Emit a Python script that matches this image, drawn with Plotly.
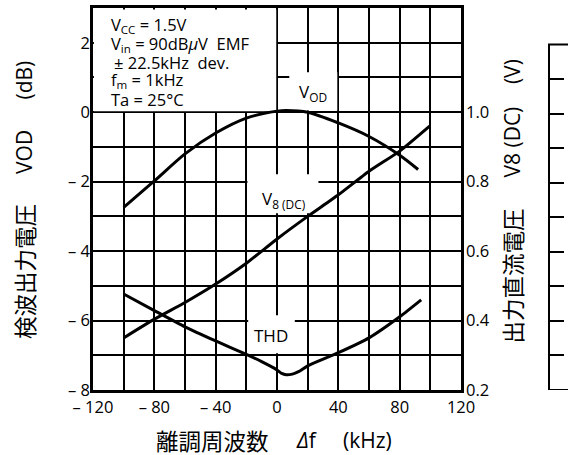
import plotly.graph_objects as go

# ---------------- data ----------------
freq_vod = [-100, -80, -60, -40, -20, 0, 6, 20, 40, 60, 80, 92]
vod_db = [-2.74, -1.98, -1.20, -0.60, -0.17, 0.03, 0.05, 0.0, -0.31, -0.70, -1.24, -1.65]

freq_v8 = [-100, -80, -60, -40, -20, 0, 20, 40, 60, 80, 99.5]
v8_dc = [0.350, 0.404, 0.452, 0.505, 0.565, 0.635, 0.700, 0.762, 0.830, 0.888, 0.960]

freq_thd = [-100, -80, -60, -40, -20, -10, 0, 3, 6, 10, 14, 20, 40, 60, 80, 94]
thd_pct = [2.78, 2.30, 1.83, 1.42, 1.03, 0.82, 0.58, 0.48, 0.44, 0.46, 0.53, 0.70, 1.08, 1.51, 2.12, 2.61]

x_tickvals = [-120, -80, -40, 0, 40, 80, 120]
x_ticktext = ["\u2013 120", "\u2013 80", "\u2013 40", "0", "40", "80", "120"]
yl_tickvals = [-8, -6, -4, -2, 0, 2]
yl_ticktext = ["\u2013 8", "\u2013 6", "\u2013 4", "\u2013 2", "0", "2"]
yr_tickvals = [0.2, 0.4, 0.6, 0.8, 1.0]
yr_ticktext = ["0.2", "0.4", "0.6", "0.8", "1.0"]
thd_tickvals = [1, 2, 3, 4, 5, 6, 7, 8, 9]

cond_lines = [
    "V<sub>CC</sub> = 1.5V",
    "V<sub>in</sub> = 90dB<i>\u03bc</i>V  EMF",
    "\u00b1 22.5kHz  dev.",
    "f<sub>m</sub> = 1kHz",
    "Ta = 25\u00b0C",
]

# ---------------- layout geometry ----------------
W, H = 568, 455
ML, MR, MT, MB = 93, 12, 5, 65
PW = W - ML - MR
PH = H - MT - MB


def pxx(x):
    return (x - ML) / PW


def pxy(y):
    return (H - MB - y) / PH


LAT = "Open Sans"
CJK = "Noto Sans CJK JP"
BLACK = "black"
TICK = 16.5

fig = go.Figure()
fig.add_trace(go.Scatter(x=freq_vod, y=vod_db, mode="lines", yaxis="y",
                         line=dict(color=BLACK, width=3, shape="spline", smoothing=0.8),
                         showlegend=False, hoverinfo="skip"))
fig.add_trace(go.Scatter(x=freq_v8, y=v8_dc, mode="lines", yaxis="y2",
                         line=dict(color=BLACK, width=3, shape="spline", smoothing=0.5),
                         showlegend=False, hoverinfo="skip"))
fig.add_trace(go.Scatter(x=freq_thd, y=thd_pct, mode="lines", yaxis="y3",
                         line=dict(color=BLACK, width=3, shape="spline", smoothing=0.6),
                         showlegend=False, hoverinfo="skip"))

grid = dict(gridcolor=BLACK, gridwidth=1.5)
fig.update_layout(
    width=W, height=H,
    margin=dict(l=ML, r=MR, t=MT, b=MB, pad=0),
    paper_bgcolor="white", plot_bgcolor="white",
    font=dict(family=LAT, size=16, color=BLACK),
    showlegend=False,
    xaxis=dict(domain=[0, (466.7 - ML) / PW], range=[-120, 120],
               tickmode="array", tickvals=x_tickvals, ticktext=x_ticktext,
               ticks="", showline=True, mirror=True, linecolor=BLACK, linewidth=2.5,
               showgrid=True, **grid, zeroline=False,
               minor=dict(dtick=20, tick0=0, showgrid=True, **grid),
               tickfont=dict(family=LAT, size=TICK, color=BLACK)),
    yaxis=dict(range=[-8, 3], tickmode="array", tickvals=yl_tickvals, ticktext=yl_ticktext,
               ticks="", showline=True, mirror=True, linecolor=BLACK, linewidth=2.5,
               showgrid=True, **grid, zeroline=False, ticklabelstandoff=-3,
               minor=dict(dtick=1, tick0=0, showgrid=True, **grid),
               tickfont=dict(family=LAT, size=TICK, color=BLACK)),
    yaxis2=dict(overlaying="y", side="right", anchor="x", range=[0.2, 1.3],
                tickmode="array", tickvals=yr_tickvals, ticktext=yr_ticktext,
                ticks="", showline=False, showgrid=False, zeroline=False,
                ticklabelstandoff=4,
                tickfont=dict(family=LAT, size=TICK, color=BLACK)),
    yaxis3=dict(overlaying="y", side="right", anchor="free", position=1.0,
                range=[0, 11.06], tickmode="array", tickvals=thd_tickvals,
                ticks="outside", ticklen=14, tickwidth=1.5, tickcolor=BLACK,
                showticklabels=False, showline=False, showgrid=False, zeroline=False),
)

# white areas where the reference grid is interrupted (text box and curve labels)
covers = [
    (-119.4, -0.5, 0.03, 2.96),
    (8.0, 39.3, 0.05, 1.15),
    (-19.3, 27.0, -2.91, -1.79),
    (-18.8, 11.6, -6.94, -5.85),
]
for x0, x1, y0, y1 in covers:
    fig.add_shape(type="rect", xref="x", yref="y", x0=x0, x1=x1, y0=y0, y1=y1,
                  fillcolor="white", line=dict(width=0), layer="between")

# frame of the third (THD) axis, cut at the picture edge
fig.add_shape(type="rect", xref="paper", yref="y3", x0=1.0, x1=1.2, y0=0, y1=10,
              line=dict(color=BLACK, width=2), fillcolor="rgba(0,0,0,0)", layer="above")

ann = []
cond_y = [22, 41, 60, 78, 97]
cond_x = [109, 109, 112, 109, 109]
for t, yy, xx in zip(cond_lines, cond_y, cond_x):
    ann.append(dict(text=t, x=pxx(xx), y=pxy(yy), xref="paper", yref="paper",
                    xanchor="left", yanchor="middle", showarrow=False,
                    font=dict(family=LAT, size=16.5, color=BLACK)))

curve_labels = [
    ("V<sub>OD</sub>", 316, 90),
    ("V<sub>8 (DC)</sub>", 287, 198),
    ("THD", 274, 335),
]
for t, xx, yy in curve_labels:
    ann.append(dict(text=t, x=pxx(xx), y=pxy(yy), xref="paper", yref="paper",
                    xanchor="center", yanchor="middle", showarrow=False,
                    font=dict(family=LAT, size=17, color=BLACK)))

# axis titles, built from parts so their spacing follows the reference
left_title = [("(dB)", LAT, 21, 78), ("VOD", LAT, 21, 150), ("検波出力電圧", CJK, 22.5, 271)]
for t, fam, sz, yy in left_title:
    ann.append(dict(text=t, x=pxx(23), y=pxy(yy), xref="paper", yref="paper",
                    xanchor="center", yanchor="middle", textangle=-90, showarrow=False,
                    font=dict(family=fam, size=sz, color=BLACK)))

right_title = [("(V)", LAT, 21, 69), ("V8 (DC)", LAT, 21, 140), ("出力直流電圧", CJK, 22.5, 275)]
for t, fam, sz, yy in right_title:
    ann.append(dict(text=t, x=pxx(518), y=pxy(yy), xref="paper", yref="paper",
                    xanchor="center", yanchor="middle", textangle=-90, showarrow=False,
                    font=dict(family=fam, size=sz, color=BLACK)))

x_title = [("離調周波数", CJK, 22.5, 214), ("<i>\u0394</i>f", LAT, 21, 310), ("(kHz)", LAT, 21, 371.5)]
for t, fam, sz, xx in x_title:
    ann.append(dict(text=t, x=pxx(xx), y=pxy(440), xref="paper", yref="paper",
                    xanchor="center", yanchor="middle", showarrow=False,
                    font=dict(family=fam, size=sz, color=BLACK)))

fig.update_layout(annotations=ann)
fig.write_html("out.html", config={"displayModeBar": False},
               post_script="document.body.style.margin='0px';document.body.style.padding='0px';")
